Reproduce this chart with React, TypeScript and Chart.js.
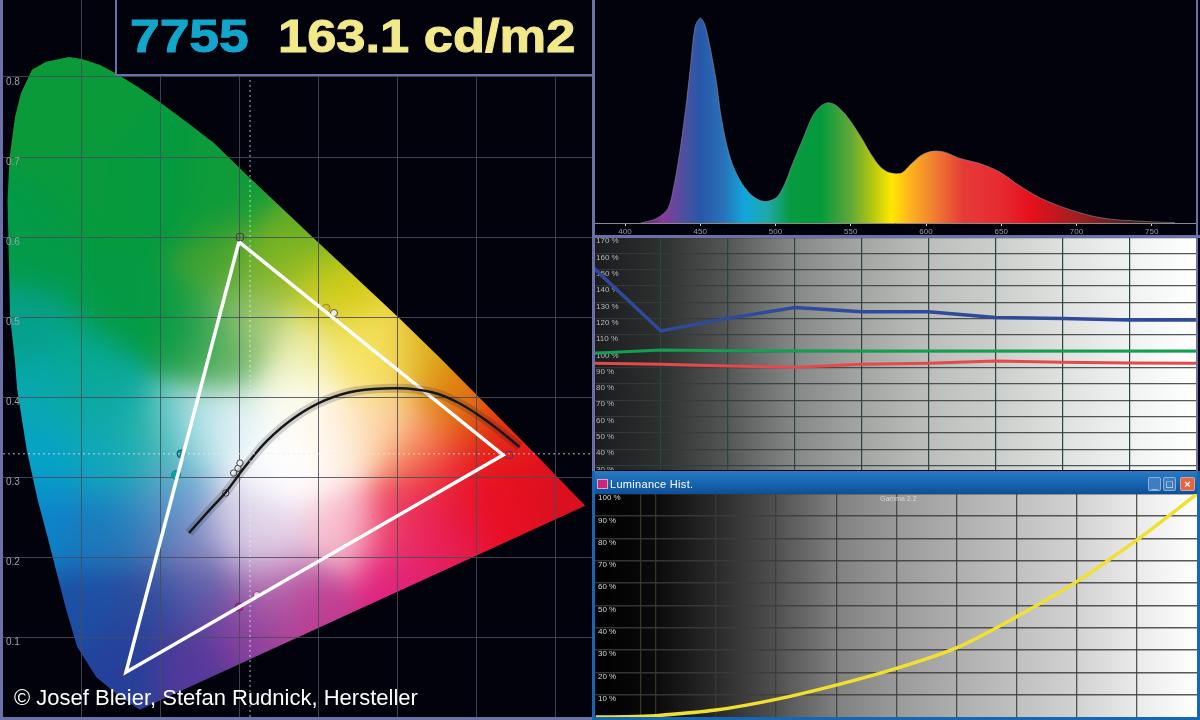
import React, { useEffect, useRef } from "react";
import { Chart, registerables } from "chart.js";

Chart.register(...registerables);

const SANS = "'Liberation Sans', Arial, sans-serif";
const PAGE_BG = "#02020c";
const FRAME = "#6a70a8";

// ---------- CIE diagram ----------
const locusX = [0.0835,0.1,0.123,0.142,0.171,0.2,0.234,0.267,0.306,0.389,0.5,0.553,0.665,0.737,0.173,0.142,0.118,0.094,0.08,0.068,0.0557,0.044,0.03,0.018,0.015,0.009,0.0057,0.0084,0.0152,0.0228,0.0367,0.0544];
const locusY = [0.825,0.8225,0.815,0.805,0.7875,0.7675,0.7425,0.7175,0.68,0.6025,0.5,0.449,0.3375,0.264,0.009,0.03,0.05,0.0875,0.134,0.18,0.2275,0.271,0.334,0.409,0.446,0.5,0.646,0.7,0.75,0.78,0.809,0.819];
const gamutX = [0.2987,0.633,0.1557,0.2987];
const gamutY = [0.594,0.3275,0.056,0.594];
const planckX = [0.2354,0.258,0.282,0.306,0.335,0.37,0.408,0.447,0.5,0.543,0.577,0.616,0.654];
const planckY = [0.23,0.255,0.281,0.3125,0.346,0.375,0.396,0.4075,0.411,0.406,0.3925,0.3675,0.3375];
const whiteRefX = [0.3127];
const whiteRefY = [0.329];
const cyanX = [0.2253,0.219];
const cyanY = [0.329,0.3025];
const yellowX = [0.409,0.419];
const yellowY = [0.511,0.505];
const magentaX = [0.2987,0.3215];
const magentaY = [0.1375,0.1525];
const greyX = [0.2975,0.3,0.292,0.282];
const greyY = [0.311,0.3175,0.305,0.28];
const cornerX = [0.1506,0.6405,0.3];
const cornerY = [0.055,0.3275,0.6];
const cieTicksX = [0.1,0.2,0.3,0.4,0.5,0.6,0.7];
const cieTicksY = [0.1,0.2,0.3,0.4,0.5,0.6,0.7,0.8];

const anchorX = [0.072,0.123,0.199,0.287,0.047,0.148,0.237,0.028,0.098,0.044,0.118,0.19,0.047,0.135,0.044,0.118,0.186,0.098,0.151,0.238,0.186,0.25,0.311,0.384,0.338,0.505,0.553,0.625,0.699,0.651,0.578,0.54,0.384,0.338,0.287,0.238,0.214,0.238,0.335,0.432,0.505,0.529,0.481,0.427,0.3,0.376,0.456,0.408,0.3355,0.432,0.529,0.577,0.625,0.2835,0.3115,0.277,0.384,0.481,0.3886];
const anchorY = [0.771,0.646,0.646,0.646,0.584,0.521,0.484,0.484,0.434,0.405,0.384,0.3425,0.321,0.309,0.2375,0.2375,0.2375,0.134,0.071,0.071,0.146,0.159,0.1125,0.134,0.159,0.175,0.2175,0.259,0.28,0.321,0.284,0.259,0.321,0.309,0.3625,0.355,0.28,0.2175,0.2175,0.2375,0.2375,0.321,0.3625,0.346,0.246,0.396,0.4625,0.55,0.5625,0.521,0.4625,0.405,0.3625,0.5625,0.5,0.459,0.459,0.459,0.596];
const anchorColor = ["#0a9a3a","#089a3c","#049a3e","#0f9b3a","#039a48","#049a44","#069a44","#05a08a","#06a890","#08a8b5","#10a9a9","#1eb0a0","#06a2c8","#10a8c0","#0a84cc","#1b78bc","#2f7ab8","#1c50a4","#24409a","#55389a","#2c4a9c","#5a5aa6","#8a3e9c","#c03a90","#b070b0","#e0207f","#e61a50","#e80f25","#d8101f","#e8101f","#e8101f","#e8205a","#ffffff","#ffffff","#e6f4f8","#a8dce8","#6fa8d5","#8a88c0","#e8d8ea","#f8c0d0","#f04468","#f47a50","#fbd7a0","#fff0e0","#d8d0e8","#fdfdf0","#f8e560","#cdd020","#90b820","#d8c810","#d8a810","#e08010","#e03a10","#3fa030","#b0cc80","#60b060","#f0f0b0","#fbe870","#5aaa24"];

// ---------- Spectrum ----------
const spectrumNm = [410.4,420.7,428.5,432.4,436.3,440.2,443.5,446.6,450,453.1,457,460.9,463.5,467.4,471.2,476.4,482.9,489.4,494.6,501,506.2,511.4,517.9,524.4,529.5,534.7,539.9,547.7,556.7,563.2,569.7,576.2,583.9,590.4,596.9,604.7,612.4,622.8,635.8,648.7,661.7,674.6,687.6,700.5,713.5,726.4,739.4,752.3,765.3];
const spectrumPower = [0,2.1,7,17.6,34,55,76.3,95.9,100,96.7,84,68,53.5,38.8,29,20.9,14.4,11.1,10.6,12.7,19.2,29,40.5,51.9,56.8,58.7,57.6,51.9,42.1,33.9,27.4,24.5,24.5,29,33.1,35.1,34.6,31.5,29,25,18.4,12.7,8.6,5.4,2.9,1.6,1,0.5,0.2];
const spectrumTicks = [400,450,500,550,600,650,700,750];
const hueNm = [415,425,440,450,465,480,495,510,530,550,565,577,590,605,625,650,670,700,730,760];
const hueColor = ["#6a2a80","#8a3a9a","#4a50a0","#2858a8","#2a70b8","#10a8dc","#20a8a8","#089a40","#049a3c","#60a838","#b8c810","#ffe800","#ffb020","#f08030","#e63a38","#e62a30","#e6101c","#a02020","#602020","#201010"];

// ---------- RGB balance ----------
const ire = [10,20,30,40,50,60,70,80,90,100];
const blueBalance = [150.9,112.5,120.2,126.8,124.3,124.3,120.7,120.2,119.2,119.2];
const greenBalance = [98.8,100.8,100.4,100.4,100.2,100.2,100.2,100.2,100.2,100.2];
const redBalance = [92.6,92,91,90.2,92,92.6,94.1,93.3,92.8,92.6];
const balanceTicksX = [20,30,40,50,60,70,80,90];
const balanceTicksY = [30,40,50,60,70,80,90,100,110,120,130,140,150,160,170];
const balanceShadeX = [10,20,30,40,50,60,70,80,90,100];
const balanceShade = ["#1a1c1e","#2e3030","#555757","#868888","#a4a6a4","#bcbebc","#cccecc","#dfe1df","#f0f2f2","#ffffff"];

// ---------- Luminance ----------
const lumaX = [0,5,10,20,30,40,50,60,70,80,90,100];
const lumaY = [0,0.1,0.6,3.1,7.9,14.3,21.8,31,45,60.7,79.4,100];
const lumaTicksX = [7.5,10,20,30,40,50,60,70,80,90];
const lumaTicksY = [10,20,30,40,50,60,70,80,90,100];
const lumaShadeX = [0,10,20,30,40,50,60,70,80,90,100];
const lumaShade = ["#000000","#0a0a0a","#2a2a2a","#505050","#808080","#9a9a9a","#aeaeae","#c0c0c0","#d2d2d2","#eaeaea","#ffffff"];

const zip = (xs: number[], ys: number[]) => xs.map((x, i) => ({ x, y: ys[i] }));
const hexRgb = (h: string) => [1, 3, 5].map((i) => parseInt(h.slice(i, i + 2), 16));

const fixedTicks = (list: number[]) => (scale: any) => {
  scale.ticks = list.map((value) => ({ value }));
};
const noPad = (s: any) => { s.paddingLeft = s.paddingRight = s.paddingTop = s.paddingBottom = 0; };
const flatX = (s: any) => { s.height = 0; noPad(s); };
const flatY = (s: any) => { s.width = 0; noPad(s); };

const SIGMA = 0.034;
// paints the chromaticity colours inside the locus, located through the chart's own scales
const locusPaint = {
  id: "locusPaint",
  beforeDraw(chart: any) {
    const { ctx, scales: { x, y }, width, height } = chart;
    const rgb = anchorColor.map(hexRgb);
    const w = Math.round(width / 2), h = Math.round(height / 2);
    const off = document.createElement("canvas");
    off.width = w; off.height = h;
    const oc = off.getContext("2d")!;
    const img = oc.createImageData(w, h);
    for (let j = 0; j < h; j++) {
      const vy = y.getValueForPixel(j * 2 + 1);
      for (let i = 0; i < w; i++) {
        const vx = x.getValueForPixel(i * 2 + 1);
        let r = 0, g = 0, b = 0, t = 1e-30;
        for (let k = 0; k < anchorX.length; k++) {
          const dx = vx - anchorX[k], dy = vy - anchorY[k];
          const wt = Math.exp(-(dx * dx + dy * dy) / (2 * SIGMA * SIGMA));
          r += rgb[k][0] * wt; g += rgb[k][1] * wt; b += rgb[k][2] * wt; t += wt;
        }
        const p = (j * w + i) * 4;
        img.data[p] = r / t; img.data[p + 1] = g / t; img.data[p + 2] = b / t; img.data[p + 3] = 255;
      }
    }
    oc.putImageData(img, 0, 0);
    ctx.save();
    ctx.fillStyle = PAGE_BG;
    ctx.fillRect(0, 0, width, height);
    ctx.beginPath();
    locusX.forEach((vx, i) => {
      const px = x.getPixelForValue(vx), py = y.getPixelForValue(locusY[i]);
      if (i) ctx.lineTo(px, py); else ctx.moveTo(px, py);
    });
    ctx.closePath();
    ctx.clip();
    ctx.imageSmoothingEnabled = true;
    ctx.drawImage(off, 0, 0, width, height);
    ctx.restore();
  },
};

const shadePlugin = (stopsX: number[], colors: string[]) => ({
  id: "shade",
  beforeDraw(chart: any) {
    const { ctx, scales: { x }, chartArea: a } = chart;
    const g = ctx.createLinearGradient(a.left, 0, a.right, 0);
    stopsX.forEach((v, i) => {
      const o = (x.getPixelForValue(v) - a.left) / (a.right - a.left);
      g.addColorStop(Math.min(1, Math.max(0, o)), colors[i]);
    });
    ctx.save();
    ctx.fillStyle = g;
    ctx.fillRect(a.left, a.top, a.right - a.left, a.bottom - a.top);
    ctx.restore();
  },
});

const bgPlugin = {
  id: "bg",
  beforeDraw(chart: any) {
    chart.ctx.save();
    chart.ctx.fillStyle = PAGE_BG;
    chart.ctx.fillRect(0, 0, chart.width, chart.height);
    chart.ctx.restore();
  },
};

const base = {
  responsive: false,
  animation: false,
  maintainAspectRatio: false,
  layout: { padding: 0, autoPadding: false },
  plugins: { legend: { display: false }, tooltip: { enabled: false }, title: { display: false } },
  elements: { point: { radius: 0 }, line: { tension: 0 } },
};

const marker = (xs: number[], ys: number[], fill: string, stroke: string, radius = 3.5) => ({
  data: zip(xs, ys),
  showLine: false,
  pointRadius: radius,
  pointBackgroundColor: fill,
  pointBorderColor: stroke,
  pointBorderWidth: 1,
});

const cieConfig: any = {
  type: "scatter",
  plugins: [locusPaint],
  data: {
    datasets: [
      { data: zip(whiteRefX.concat(whiteRefX), [0, 0.8]), showLine: true, borderColor: "rgba(235,235,245,0.5)", borderWidth: 1.5, borderDash: [2, 3], pointRadius: 0 },
      { data: zip([0, 0.745], whiteRefY.concat(whiteRefY)), showLine: true, borderColor: "rgba(235,235,245,0.5)", borderWidth: 1.5, borderDash: [2, 3], pointRadius: 0 },
      { data: zip(planckX, planckY), showLine: true, tension: 0.4, borderColor: "rgba(20,20,25,0.18)", borderWidth: 9, pointRadius: 0 },
      { data: zip(planckX, planckY), showLine: true, tension: 0.4, borderColor: "#15151a", borderWidth: 2.5, pointRadius: 0 },
      { data: zip(gamutX, gamutY), showLine: true, borderColor: "#ffffff", borderWidth: 3.5, pointRadius: 0 },
      marker(cornerX, cornerY, "rgba(0,0,0,0)", "#5a2f6a", 4),
      marker(cyanX.slice(0, 1), cyanY.slice(0, 1), "#1f8f96", "#0d5f70", 4),
      marker(cyanX.slice(1), cyanY.slice(1), "#12a0a8", "#0a8a90", 4.5),
      marker(yellowX.slice(0, 1), yellowY.slice(0, 1), "#d8c020", "#8a8a30", 4),
      marker(yellowX.slice(1), yellowY.slice(1), "#eeeecc", "#555533", 3.5),
      marker(magentaX.slice(0, 1), magentaY.slice(0, 1), "#b02880", "#7a1a70", 4),
      marker(magentaX.slice(1), magentaY.slice(1), "#f4c8e0", "#a03c80", 3.5),
      marker(greyX, greyY, "#eeeeee", "#444444", 3.2),
    ],
  },
  options: {
    ...base,
    scales: {
      x: {
        type: "linear", min: -0.0038, max: 0.7456, afterFit: flatX, afterBuildTicks: fixedTicks(cieTicksX),
        border: { display: false },
        grid: { color: "rgba(72,76,90,0.85)", lineWidth: 1, drawTicks: false },
        ticks: { color: "#a0a0a8", align: "start", padding: -13, maxRotation: 0, autoSkip: false, font: { family: SANS, size: 10 }, callback: (v: number) => v.toFixed(1) },
      },
      y: {
        type: "linear", min: -0.00125, max: 0.89625, afterFit: flatY, afterBuildTicks: fixedTicks(cieTicksY),
        border: { display: false },
        grid: { color: "rgba(72,76,90,0.85)", lineWidth: 1, drawTicks: false },
        ticks: { color: "#a0a0a8", mirror: true, align: "start", padding: 6, autoSkip: false, font: { family: SANS, size: 10 }, callback: (v: number) => v.toFixed(1) },
      },
    },
  },
};

const XMIN_NM = 379.4, XMAX_NM = 779.4;
const hueFill = (c: any) => {
  const chart = c.chart;
  if (!chart.chartArea) return "#000";
  const a = chart.chartArea;
  const g = chart.ctx.createLinearGradient(a.left, 0, a.right, 0);
  hueNm.forEach((nm, i) => g.addColorStop((nm - XMIN_NM) / (XMAX_NM - XMIN_NM), hueColor[i]));
  return g;
};

const spectrumConfig: any = {
  type: "line",
  plugins: [bgPlugin],
  data: {
    datasets: [{
      data: zip(spectrumNm, spectrumPower),
      fill: { value: 0 },
      backgroundColor: hueFill,
      borderColor: "rgba(150,150,160,0.55)",
      borderWidth: 1,
      tension: 0.3,
      pointRadius: 0,
    }],
  },
  options: {
    ...base,
    scales: {
      x: {
        type: "linear", min: XMIN_NM, max: XMAX_NM, position: { y: 0 }, afterFit: noPad, afterBuildTicks: fixedTicks(spectrumTicks),
        border: { color: "#8a8a8a", width: 1 },
        grid: { drawOnChartArea: false, color: "#d0d0d0", tickLength: 2 },
        ticks: { color: "#9a9aa0", padding: 2, maxRotation: 0, autoSkip: false, font: { family: SANS, size: 8 } },
      },
      y: { type: "linear", min: -5.86, max: 108.9, display: false },
    },
  },
};

const balanceConfig: any = {
  type: "line",
  plugins: [shadePlugin(balanceShadeX, balanceShade)],
  data: {
    datasets: [
      { data: zip(ire, redBalance), borderColor: "#e6494a", borderWidth: 3, pointRadius: 0 },
      { data: zip(ire, greenBalance), borderColor: "#12a050", borderWidth: 3, pointRadius: 0 },
      { data: zip(ire, blueBalance), borderColor: "#2f4a9a", borderWidth: 3.5, pointRadius: 0 },
    ],
  },
  options: {
    ...base,
    scales: {
      x: {
        type: "linear", min: 10, max: 100, afterFit: flatX, afterBuildTicks: fixedTicks(balanceTicksX),
        border: { display: false },
        grid: { color: "#2c4444", lineWidth: 1.2, drawTicks: false },
        ticks: { display: false },
      },
      y: {
        type: "linear", min: 27.2, max: 169.5, afterFit: flatY, afterBuildTicks: fixedTicks(balanceTicksY),
        border: { display: false },
        grid: { color: "rgba(50,60,60,0.85)", lineWidth: 1.2, drawTicks: false },
        ticks: { color: "#b8b8b8", mirror: true, align: "start", padding: 2, autoSkip: false, font: { family: SANS, size: 8 }, callback: (v: number) => `${v} %` },
      },
    },
  },
};

const lumaConfig: any = {
  type: "line",
  plugins: [shadePlugin(lumaShadeX, lumaShade)],
  data: {
    datasets: [{ data: zip(lumaX, lumaY), borderColor: "#f0e030", borderWidth: 3.5, tension: 0.3, pointRadius: 0 }],
  },
  options: {
    ...base,
    scales: {
      x: {
        type: "linear", min: -0.28, max: 100, afterFit: flatX, afterBuildTicks: fixedTicks(lumaTicksX),
        border: { display: false },
        grid: { color: "rgba(60,60,50,0.85)", lineWidth: 1.3, drawTicks: false },
        ticks: { color: "#a0a090", padding: -10, maxRotation: 0, autoSkip: false, font: { family: SANS, size: 8 } },
      },
      y: {
        type: "linear", min: 0, max: 100, afterFit: flatY, afterBuildTicks: fixedTicks(lumaTicksY),
        border: { display: false },
        grid: { color: "rgba(60,60,55,0.85)", lineWidth: 1.6, drawTicks: false },
        ticks: { color: "#d8d8d8", mirror: true, align: "start", padding: 4, autoSkip: false, font: { family: SANS, size: 8 }, callback: (v: number) => `${v} %` },
      },
    },
  },
};

function Panel({ config, left, top, width, height }: any) {
  const ref = useRef<HTMLCanvasElement>(null);
  useEffect(() => {
    const chart = new Chart(ref.current!, config);
    return () => chart.destroy();
  }, [config]);
  return <canvas ref={ref} width={width} height={height} style={{ position: "absolute", left, top, width, height, display: "block" }} />;
}

const Box = ({ s, children }: any) => <div style={{ position: "absolute", boxSizing: "border-box", ...s }}>{children}</div>;

const winBtn = (left: number, bg: string, label: string) => (
  <Box s={{ left, top: 477, width: left > 1178 ? 15 : 13, height: 14, background: bg, border: "1px solid rgba(190,210,240,0.6)", borderRadius: 2, color: "#fff", fontFamily: SANS, fontSize: 11, fontWeight: 700, lineHeight: "12px", textAlign: "center" }}>{label}</Box>
);

const bigText = {
  fontFamily: SANS, fontWeight: 700, fontSize: 46, lineHeight: "72px", whiteSpace: "nowrap",
  transformOrigin: "left center", WebkitTextStroke: "1px currentColor",
};

export default function App() {
  return (
    <div style={{ position: "absolute", left: 0, top: 0, width: 1200, height: 720, overflow: "hidden", background: PAGE_BG }}>
      <Panel config={cieConfig} left={0} top={0} width={592} height={718} />
      <Panel config={spectrumConfig} left={594} top={0} width={602} height={235} />
      <Panel config={balanceConfig} left={594} top={238} width={602} height={232} />
      <Panel config={lumaConfig} left={594} top={494} width={603} height={223} />

      {/* frame */}
      <Box s={{ left: 0, top: 0, width: 3, height: 720, background: FRAME }} />
      <Box s={{ left: 592, top: 0, width: 2.5, height: 472, background: FRAME }} />
      <Box s={{ left: 594, top: 235, width: 606, height: 3, background: FRAME }} />
      <Box s={{ left: 1196, top: 0, width: 2, height: 472, background: FRAME }} />
      <Box s={{ left: 0, top: 717, width: 594, height: 3, background: FRAME }} />

      {/* read-out boxes */}
      <Box s={{ left: 115, top: 0, width: 148, height: 76, background: PAGE_BG, border: `2px solid ${FRAME}`, borderTop: "none" }} />
      <Box s={{ left: 261, top: 0, width: 333, height: 76, background: PAGE_BG, border: `2px solid ${FRAME}`, borderTop: "none", borderLeft: "none" }} />
      <Box s={{ ...bigText, left: 130, top: 0, color: "#12a6cc", transform: "scaleX(1.16)" }}>7755</Box>
      <Box s={{ ...bigText, left: 278, top: 0, color: "#f2e98a", transform: "scaleX(1.14)" }}>163.1 cd/m2</Box>

      {/* luminance window chrome */}
      <Box s={{ left: 592, top: 471, width: 608, height: 23, background: "linear-gradient(180deg,#2a7ac4 0%,#1766b2 50%,#0f4f96 100%)" }} />
      <Box s={{ left: 592, top: 471, width: 3, height: 249, background: "#1766b2" }} />
      <Box s={{ left: 1197, top: 471, width: 3, height: 249, background: "#1766b2" }} />
      <Box s={{ left: 592, top: 717, width: 608, height: 3, background: "#1766b2" }} />
      <Box s={{ left: 597, top: 479, width: 11, height: 10, background: "#c8287a", border: "1px solid #e8a0c8" }} />
      <Box s={{ left: 610, top: 477, color: "#fff", fontFamily: SANS, fontSize: 11, letterSpacing: 0.3, lineHeight: "14px", whiteSpace: "nowrap" }}>Luminance Hist.</Box>
      {winBtn(1148, "#3f7cc0", "_")}
      {winBtn(1163, "#3f7cc0", "□")}
      {winBtn(1180, "#e8643c", "×")}
      <Box s={{ left: 880, top: 495, color: "#d8d8d8", fontFamily: SANS, fontSize: 7, whiteSpace: "nowrap" }}>Gamma 2.2</Box>

      <Box s={{ left: 14, top: 685, color: "#ffffff", fontFamily: SANS, fontSize: 22, lineHeight: "26px", whiteSpace: "nowrap" }}>© Josef Bleier, Stefan Rudnick, Hersteller</Box>
    </div>
  );
}
